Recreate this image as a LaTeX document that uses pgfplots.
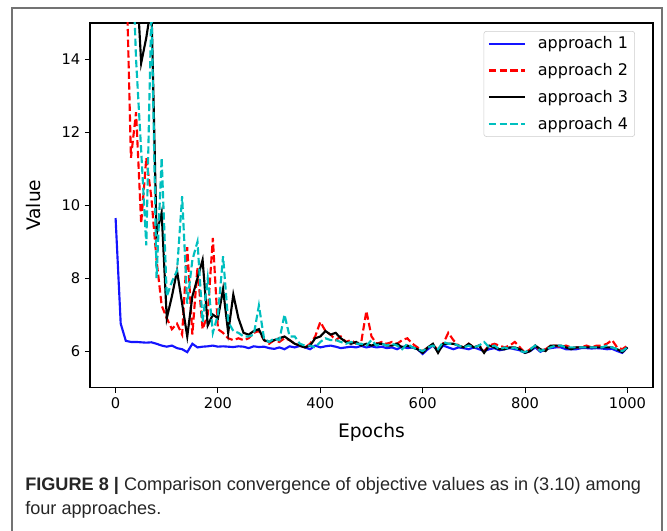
\documentclass[border=0pt]{standalone}
\usepackage{fontspec}
\setmainfont{DejaVu Sans}
\newfontfamily\capfont{Liberation Sans}
\usepackage{pgfplots}
\usepackage{pgfplotstable}
\pgfplotsset{compat=1.18}
\definecolor{cA}{RGB}{20,20,255}
\definecolor{cB}{RGB}{255,0,0}
\definecolor{cC}{RGB}{0,0,0}
\definecolor{cD}{RGB}{0,191,191}
\pgfplotstableread{
e a1 a2 a3 a4
0 9.65 40 30 45
10 6.75 28 25 35
20 6.28 17 22 25
30 6.25 11.3 19 18
40 6.25 12.55 16.5 14.0
50 6.24 9.5 13.9 11.5
60 6.23 11.3 14.6 8.9
70 6.24 10.2 15.5 15.5
80 6.2 8.5 9.2 8.0
90 6.15 7.25 9.8 11.3
100 6.12 6.9 6.9 7.5
110 6.15 6.6 7.5 7.9
120 6.08 6.75 8.2 8.2
130 6.05 6.45 7.3 10.25
140 5.97 8.85 6.4 7.3
150 6.2 6.45 7.5 8.5
160 6.1 8.3 8.0 9.0
170 6.12 6.6 8.5 6.8
180 6.13 7.0 6.7 8.0
190 6.15 9.1 7.0 6.5
200 6.12 6.6 6.9 7.0
210 6.13 6.5 7.7 8.6
220 6.12 6.35 6.5 6.8
230 6.11 6.3 7.55 6.55
240 6.13 6.35 6.9 6.5
250 6.12 6.3 6.5 6.4
260 6.08 6.35 6.45 6.4
270 6.13 6.5 6.55 6.45
280 6.11 6.55 6.6 7.25
290 6.12 6.3 6.3 6.35
300 6.08 6.2 6.25 6.25
310 6.06 6.3 6.3 6.35
320 6.1 6.25 6.35 6.3
330 6.05 6.35 6.4 7.0
340 6.13 6.3 6.3 6.4
350 6.1 6.2 6.2 6.4
360 6.14 6.15 6.15 6.2
370 6.1 6.1 6.1 6.15
380 6.05 6.2 6.15 6.15
390 6.15 6.4 6.35 6.1
400 6.1 6.8 6.4 6.25
410 6.13 6.55 6.55 6.35
420 6.15 6.45 6.45 6.3
430 6.12 6.3 6.5 6.3
440 6.08 6.4 6.35 6.25
450 6.1 6.25 6.25 6.2
460 6.12 6.3 6.2 6.25
470 6.1 6.2 6.25 6.2
480 6.14 6.25 6.15 6.2
490 6.1 7.1 6.2 6.15
500 6.13 6.4 6.15 6.3
510 6.1 6.2 6.2 6.15
520 6.12 6.25 6.2 6.2
530 6.08 6.2 6.15 6.15
540 6.1 6.25 6.15 6.2
550 6.05 6.2 6.2 6.15
560 6.12 6.3 6.1 6.05
570 6.08 6.35 6.15 6.2
580 6.1 6.2 6.1 6.1
590 6.05 6.1 6.05 6.05
600 5.92 6.0 5.95 6.0
610 6.05 6.1 6.1 6.1
620 6.15 6.15 6.2 6.15
630 6.0 6.05 5.95 6.05
640 6.15 6.2 6.2 6.25
650 6.1 6.5 6.2 6.2
660 6.05 6.3 6.2 6.2
670 6.1 6.15 6.15 6.15
680 6.08 6.1 6.1 6.1
690 6.05 6.2 6.2 6.15
700 6.1 6.1 6.1 6.1
710 6.05 6.15 6.15 6.15
720 6.0 6.0 5.95 6.25
730 6.05 6.15 6.15 6.1
740 6.08 6.2 6.1 6.15
750 6.02 6.15 6.05 6.05
760 6.05 6.1 6.05 6.1
770 6.08 6.15 6.1 6.05
780 6.05 6.25 6.1 6.1
790 6.02 6.1 6.05 6.0
800 5.95 5.95 5.95 5.97
810 6.0 6.05 6.0 6.05
820 6.1 6.15 6.15 6.15
830 5.98 6.0 6.05 6.0
840 6.05 6.05 6.0 6.05
850 6.08 6.15 6.15 6.1
860 6.1 6.15 6.15 6.15
870 6.1 6.1 6.15 6.15
880 6.05 6.15 6.1 6.1
890 6.05 6.1 6.05 6.1
900 6.05 6.1 6.1 6.1
910 6.08 6.1 6.1 6.1
920 6.08 6.15 6.1 6.1
930 6.07 6.1 6.1 6.1
940 6.08 6.15 6.1 6.1
950 6.07 6.15 6.1 6.1
960 6.05 6.2 6.1 6.15
970 6.06 6.3 6.1 6.1
980 6.0 6.1 6.05 6.05
990 5.95 6.05 5.97 6.0
1000 6.1 6.15 6.1 6.1
}\data
\begin{document}
\begin{tikzpicture}
\begin{scope}[x=0.75pt,y=-0.75pt]
\path[use as bounding box] (0,0) rectangle (667,531);
\draw[black!55, line width=1.1pt] (12,531) -- (12,8) -- (662,8) -- (662,531);
\node[anchor=west, inner sep=0pt, text=black!85, font=\capfont\fontsize{13.6}{15}\selectfont] at (25,486) {\textbf{FIGURE 8 |} Comparison convergence of objective values as in (3.10) among};
\node[anchor=west, inner sep=0pt, text=black!85, font=\capfont\fontsize{13.6}{15}\selectfont] at (25,510) {four approaches.};
\end{scope}
\begin{axis}[
  at={(67.5pt,-290.625pt)}, anchor=south west,
  scale only axis, width=422.25pt, height=273.375pt,
  xmin=-50, xmax=1050, ymin=5, ymax=15,
  xtick={0,200,...,1000}, ytick={6,8,...,14},
  tick align=outside, tick pos=left,
  major tick length=3.75pt,
  axis line style={line width=0.8pt},
  every tick/.style={line width=0.8pt, black},
  /pgf/number format/assume math mode=true,
  /pgf/number format/1000 sep={},
  ticklabel style={font=\fontsize{11}{13}\selectfont},
  label style={font=\fontsize{14}{16}\selectfont},
  xlabel={Epochs}, ylabel={Value},
  xlabel style={at={(axis description cs:0.5,0)}, anchor=center, yshift=-33.4pt},
  ylabel style={at={(axis description cs:-0.0995,0.5)}, anchor=center},
  legend style={at={(0.968,0.978)}, anchor=north east, draw=black!20, rounded corners=2pt,
    fill=white, font=\fontsize{12}{14}\selectfont, row sep=5.5pt, column sep=7pt,
    nodes={inner sep=2pt}},
  legend cell align=left,
  legend image code/.code={\draw[#1] (0pt,0pt) -- (27pt,0pt);},
]
\addplot[cA, line width=1.6pt] table[x=e,y=a1] {\data};
\addlegendentry{approach 1}
\addplot[cB, line width=1.6pt, dash pattern=on 5.5pt off 2.5pt] table[x=e,y=a2] {\data};
\addlegendentry{approach 2}
\addplot[cC, line width=1.6pt] table[x=e,y=a3] {\data};
\addlegendentry{approach 3}
\addplot[cD, line width=1.6pt, dash pattern=on 5.5pt off 2.5pt] table[x=e,y=a4] {\data};
\addlegendentry{approach 4}
\end{axis}
\end{tikzpicture}
\end{document}
